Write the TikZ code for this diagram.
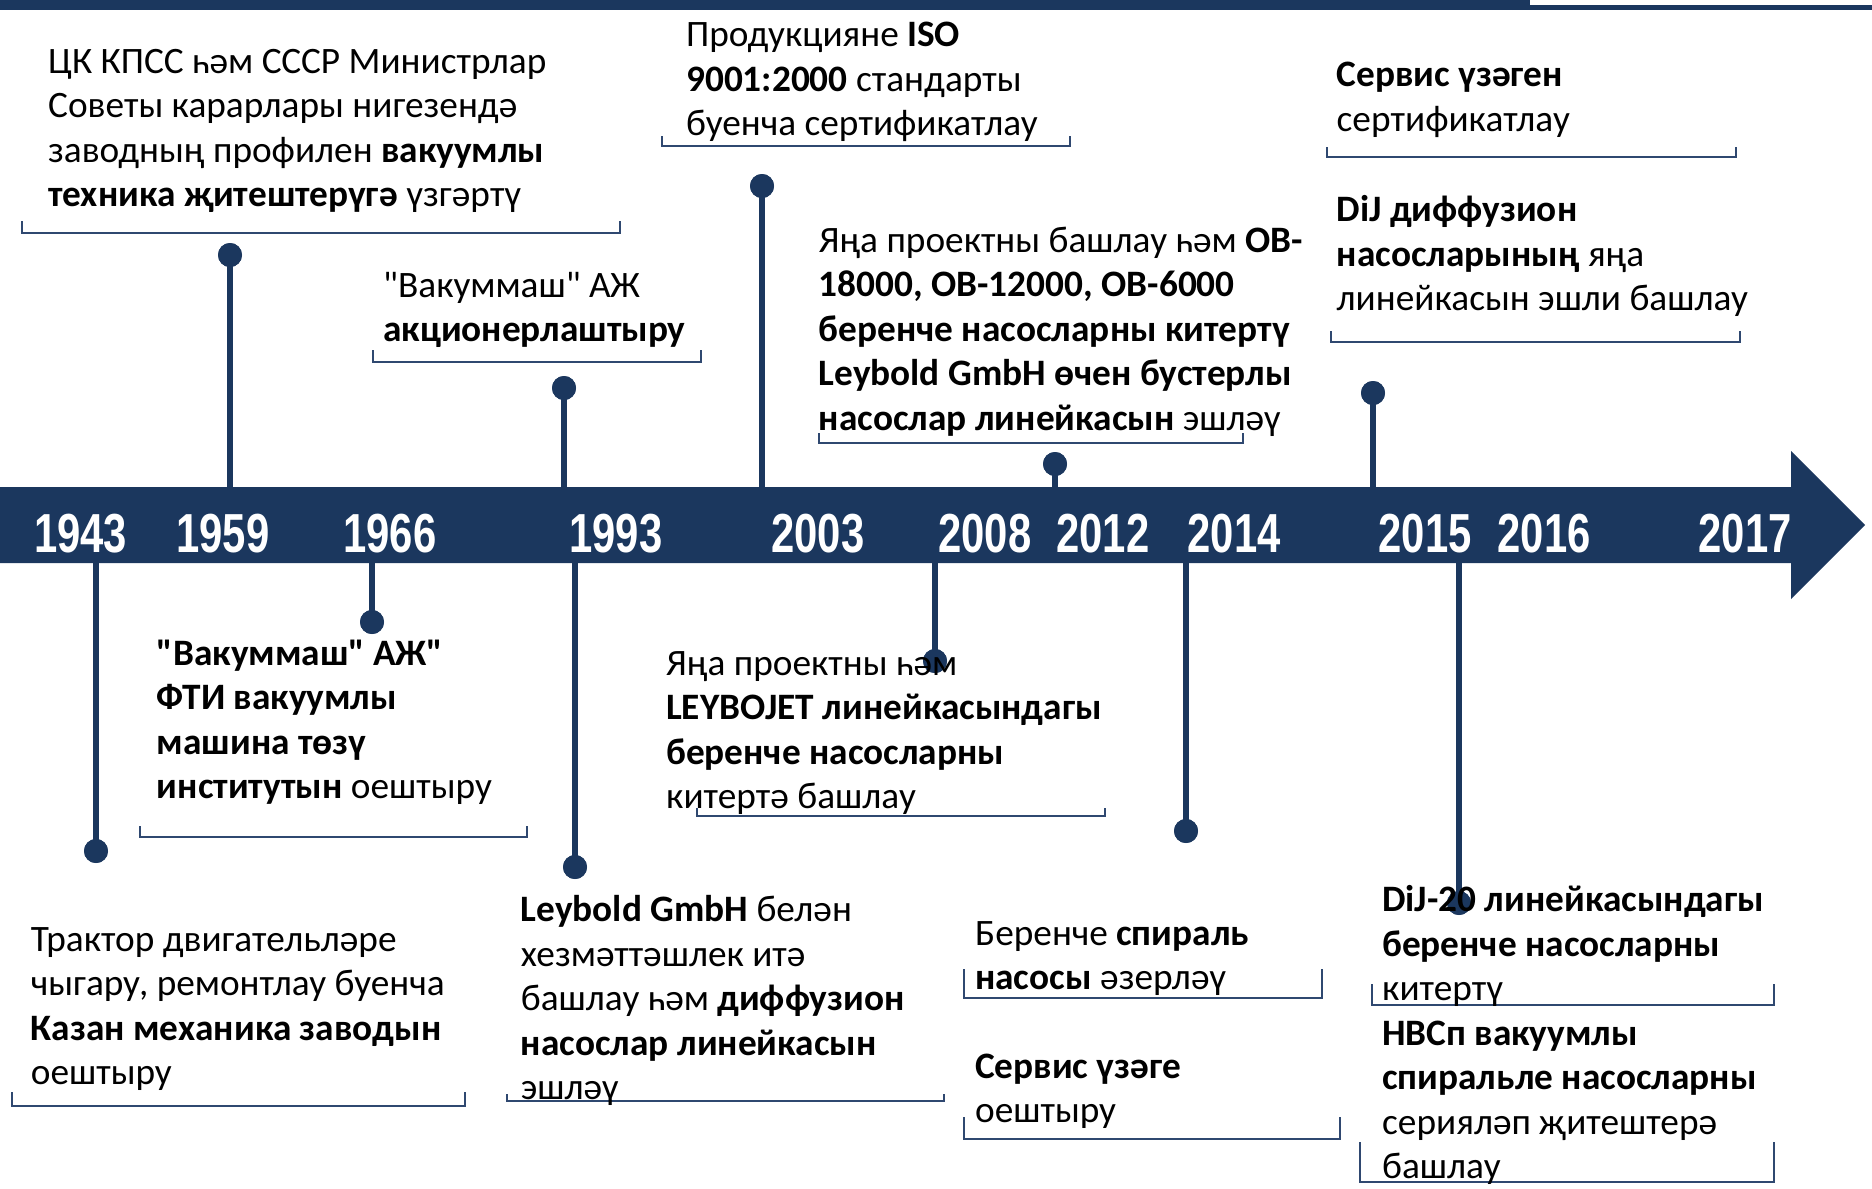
\documentclass[tikz,border=0pt]{standalone}
\usepackage{fontspec}
\usepackage{graphicx}
\setmainfont{Carlito}[Ligatures=TeXOff]
\newfontfamily\yearfont{Liberation Sans}
\definecolor{navy}{RGB}{27,55,94}
\definecolor{brkc}{RGB}{47,72,112}
\newcommand\tline[1]{\hbox{#1}}
\newcommand\yr[1]{\scalebox{0.76}[1]{#1}}
\tikzset{
  txt/.style={anchor=base west, inner sep=0pt, text=black, font=\fontsize{37.3}{44.5}\selectfont},
  year/.style={anchor=base, inner sep=0pt, text=white, font=\yearfont\bfseries\fontsize{55}{60}\selectfont},
  dot/.style={circle, fill=navy, minimum size=24pt, inner sep=0pt},
  stem/.style={draw=navy, line width=6.5pt},
  brk/.style={draw=brkc, line width=2pt}
}
\begin{document}
\begin{tikzpicture}[x=1pt,y=-1pt]
\useasboundingbox (0,0) rectangle (1872,1189);
% top bar
\fill[navy] (0,0) rectangle (1530,9.5);
\fill[navy] (1530,4.7) rectangle (1872,9.5);
% timeline arrow
\fill[navy] (0,487) -- (1791,487) -- (1791,451) -- (1865,525) -- (1791,599) -- (1791,563) -- (0,563) -- cycle;
\coordinate (btop) at (0,490);
\coordinate (bbot) at (0,560);
% years
\node[year] (y1943) at (80.5,552) {\yr{1943}};
\node[year] (y1959) at (223,552) {\yr{1959}};
\node[year] (y1966) at (390,552) {\yr{1966}};
\node[year] (y1993) at (616,552) {\yr{1993}};
\node[year] (y2003) at (818,552) {\yr{2003}};
\node[year] (y2008) at (985,552) {\yr{2008}};
\node[year] (y2012) at (1103,552) {\yr{2012}};
\node[year] (y2014) at (1234,552) {\yr{2014}};
\node[year] (y2015) at (1425,552) {\yr{2015}};
\node[year] (y2016) at (1544,552) {\yr{2016}};
\node[year] (y2017) at (1745,552) {\yr{2017}};
% dots
\node[dot] (u1) at (230,255) {};
\node[dot] (u2) at (564,388) {};
\node[dot] (u3) at (762,186) {};
\node[dot] (u4) at (1055,464) {};
\node[dot] (u5) at (1373,393) {};
\node[dot] (l1) at (96,851) {};
\node[dot] (l2) at (372,622) {};
\node[dot] (l3) at (575,867) {};
\node[dot] (l4) at (935,661) {};
\node[dot] (l5) at (1186,831) {};
\node[dot] (l6) at (1459,903) {};
% stems
\foreach \n in {u1,u2,u3,u4,u5} \draw[stem] (\n.center) -- (\n.center |- btop);
\foreach \n in {l1,l2,l3,l4,l5,l6} \draw[stem] (\n.center) -- (\n.center |- bbot);
% redraw dots on top of stems
\foreach \n in {u1,u2,u3,u4,u5,l1,l2,l3,l4,l5,l6} \fill[navy] (\n.center) circle (12);
% brackets
\draw[brk] (21.5,221) |- (620,233) -- (620,221);
\draw[brk] (662,136) |- (1070,146) -- (1070,136);
\draw[brk] (372.5,350) |- (701,362) -- (701,350);
\draw[brk] (819,433) |- (1243,443) -- (1243,433);
\draw[brk] (1327,147) |- (1736,157) -- (1736,147);
\draw[brk] (1331,331) |- (1740,341.7) -- (1740,331);
\draw[brk] (12,1092) |- (465,1106) -- (465,1092);
\draw[brk] (140,826) |- (527,836.7) -- (527,826);
\draw[brk] (507,1094) |- (944,1100.7) -- (944,1094);
\draw[brk] (697,808) |- (1105,816) -- (1105,808);
\draw[brk] (964,969) |- (1322,998) -- (1322,969);
\draw[brk] (964,1117) |- (1340,1139) -- (1340,1117);
\draw[brk] (1372,984) |- (1774,1005) -- (1774,984);
\draw[brk] (1360,1142) |- (1774,1182) -- (1774,1142);
% texts
\node[txt] (tA) at (48,73) {\vtop{\tline{ЦК КПСС һәм СССР Министрлар}\tline{Советы карарлары нигезендә}\tline{заводның профилен \textbf{вакуумлы}}\tline{\textbf{техника җитештерүгә} үзгәртү}}};
\node[txt] (tB) at (686,46.5) {\vtop{\tline{Продукцияне \textbf{ISO}}\tline{\textbf{9001:2000} стандарты}\tline{буенча сертификатлау}}};
\node[txt] (tC) at (383,297) {\vtop{\tline{"Вакуммаш" АЖ}\tline{\textbf{акционерлаштыру}}}};
\node[txt] (tD) at (818.6,252) {\vtop{\tline{Яңа проектны башлау һәм \textbf{ОВ-}}\tline{\textbf{18000, ОВ-12000, ОВ-6000}}\tline{\textbf{беренче насосларны китертү}}\tline{\textbf{Leybold GmbH өчен бустерлы}}\tline{\textbf{насослар линейкасын} эшләү}}};
\node[txt] (tE) at (1336.5,86.7) {\vtop{\tline{\textbf{Сервис үзәген}}\tline{сертификатлау}}};
\node[txt] (tF) at (1336.5,221.7) {\vtop{\tline{\textbf{DiJ диффузион}}\tline{\textbf{насосларының} яңа}\tline{линейкасын эшли башлау}}};
\node[txt] (tG) at (30.7,951) {\vtop{\tline{Трактор двигательләре}\tline{чыгару, ремонтлау буенча}\tline{\textbf{Казан механика заводын}}\tline{оештыру}}};
\node[txt] (tH) at (156.7,665) {\vtop{\tline{\textbf{"Вакуммаш" АЖ"}}\tline{\textbf{ФТИ вакуумлы}}\tline{\textbf{машина төзү}}\tline{\textbf{институтын} оештыру}}};
\node[txt] (tI) at (520.7,921.7) {\vtop{\tline{\textbf{Leybold GmbH} белән}\tline{хезмәттәшлек итә}\tline{башлау һәм \textbf{диффузион}}\tline{\textbf{насослар линейкасын}}\tline{эшләү}}};
\node[txt] (tJ) at (666,675) {\vtop{\tline{Яңа проектны һәм}\tline{\textbf{LEYBOJET линейкасындагы}}\tline{\textbf{беренче насосларны}}\tline{китертә башлау}}};
\node[txt] (tK) at (975,945) {\vtop{\tline{Беренче \textbf{спираль}}\tline{\textbf{насосы} әзерләү}}};
\node[txt] (tL) at (975,1078) {\vtop{\tline{\textbf{Сервис үзәге}}\tline{оештыру}}};
\node[txt] (tM) at (1382,911.7) {\vtop{\tline{\textbf{DiJ-20 линейкасындагы}}\tline{\textbf{беренче насосларны}}\tline{китертү}}};
\node[txt] (tN) at (1382,1045) {\vtop{\tline{\textbf{НВСп вакуумлы}}\tline{\textbf{спиральле насосларны}}\tline{сериялəп җитештерә}\tline{башлау}}};
\end{tikzpicture}
\end{document}
